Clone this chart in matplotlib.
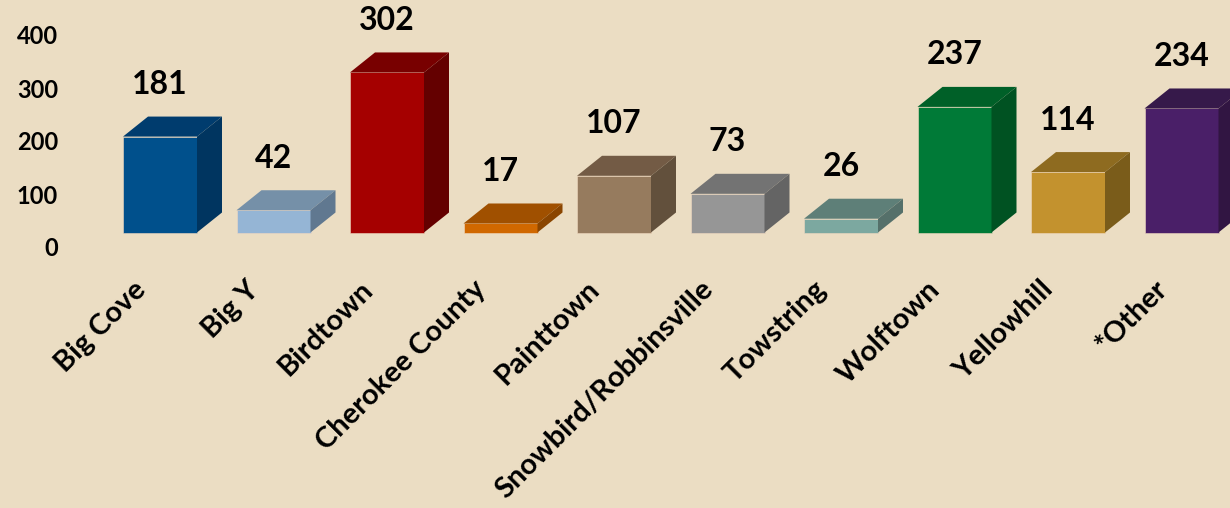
import matplotlib
matplotlib.use('Agg')
import matplotlib.pyplot as plt
from matplotlib.patches import Polygon
from matplotlib.transforms import ScaledTranslation

plt.rcParams['font.family'] = ['Lato', 'DejaVu Sans']

# data
categories = ['Big Cove', 'Big Y', 'Birdtown', 'Cherokee County', 'Painttown',
              'Snowbird/Robbinsville', 'Towstring', 'Wolftown', 'Yellowhill', '*Other']
counts = [181, 42, 302, 17, 107, 73, 26, 237, 114, 234]
y_ticks = [0, 100, 200, 300, 400]

# face colours (front / top / side)
front_colors = ['#00508C', '#95B5D5', '#A50000', '#D06800', '#967B5E',
                '#969696', '#7CA8A0', '#007A37', '#C3922E', '#4A1F68']
top_colors = ['#003C6E', '#7590A8', '#780000', '#A05000', '#735B45',
              '#737373', '#5E7F78', '#006028', '#8E6B20', '#36194A']
side_colors = ['#003560', '#607890', '#640000', '#8A4500', '#62503C',
               '#646464', '#55706A', '#005222', '#7A5C1A', '#311542']

# layout (pixels)
W, H, DPI = 1230, 508, 100
bg = '#EBDDC3'
px_per_unit = 0.53
slot = 113.5          # px between bar centres
first_center = 160
floor_px = 232.5      # baseline of the front faces
ax_left = 70
bar_w = 74 / slot
depth_x = 25 / slot
depth_y = 20 / px_per_unit

fig = plt.figure(figsize=(W / DPI, H / DPI), dpi=DPI, facecolor=bg)
ax = fig.add_axes([ax_left / W, (H - floor_px) / H, (W - ax_left) / W, floor_px / H])
ax.set_facecolor(bg)
ax.set_xlim((ax_left - first_center) / slot, (W - first_center) / slot)
ax.set_ylim(0, floor_px / px_per_unit)
for s in ax.spines.values():
    s.set_visible(False)

x = list(range(len(categories)))
ax.bar(x, counts, width=bar_w, color=front_colors, edgecolor='#F0D8C0',
       linewidth=0.4, clip_on=False, zorder=3)

for xi, v, tc, sc in zip(x, counts, top_colors, side_colors):
    l, r = xi - bar_w / 2, xi + bar_w / 2
    top = Polygon([(l, v), (r, v), (r + depth_x, v + depth_y), (l + depth_x, v + depth_y)],
                  closed=True, facecolor=tc, edgecolor='none', clip_on=False, zorder=3)
    side = Polygon([(r, 0), (r + depth_x, depth_y), (r + depth_x, v + depth_y), (r, v)],
                   closed=True, facecolor=sc, edgecolor='none', clip_on=False, zorder=3)
    ax.add_patch(top)
    ax.add_patch(side)
    ax.text(xi, v + depth_y + 32 / px_per_unit, str(v), ha='center', va='center',
            fontsize=23, fontweight='bold', color='black', zorder=4)

# y axis labels sit a bit below the bar floor
ax.set_yticks(y_ticks)
ax.set_yticklabels([str(t) for t in y_ticks], fontsize=17, fontweight='bold')
ax.tick_params(axis='y', length=0, pad=8.5)
for lab in ax.get_yticklabels():
    lab.set_transform(lab.get_transform() + ScaledTranslation(0, -14.5 / DPI, fig.dpi_scale_trans))

ax.set_xticks(x)
ax.set_xticklabels(categories, rotation=45, ha='right', va='baseline',
                   rotation_mode='anchor', fontsize=21, fontweight='bold')
ax.tick_params(axis='x', length=0, pad=0)
for lab in ax.get_xticklabels():
    lab.set_transform(lab.get_transform() + ScaledTranslation(-13 / DPI, -58.5 / DPI, fig.dpi_scale_trans))

fig.savefig('out.png', dpi=DPI, facecolor=bg)
